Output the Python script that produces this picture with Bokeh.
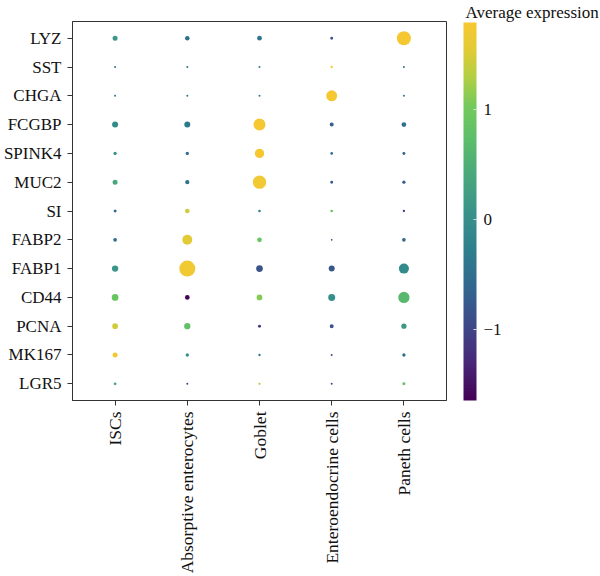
import numpy as np
import pandas as pd
from bokeh.plotting import figure
from bokeh.models import (ColumnDataSource, LinearColorMapper, ColorBar, FixedTicker,
                          FactorRange, CustomJSTickFormatter)
from bokeh.embed import file_html
from bokeh.resources import INLINE

# Marker genes (top to bottom) and cell types (left to right)
genes = ["LYZ", "SST", "CHGA", "FCGBP", "SPINK4", "MUC2", "SI",
         "FABP2", "FABP1", "CD44", "PCNA", "MK167", "LGR5"]
cell_types = ["ISCs", "Absorptive enterocytes", "Goblet",
              "Enteroendocrine cells", "Paneth cells"]

# Scaled average expression per cell type (gene order as above)
expr_iscs = [0.1, -0.4, -0.4, -0.1, 0.0, 0.4, -0.55, -0.55, 0.1, 0.9, 1.45, 1.7, 0.3]
expr_absorptive = [-0.5, -0.4, -0.4, -0.35, -0.6, -0.45, 1.45, 1.55, 1.72, -1.6, 0.8, 0.0, -1.0]
expr_goblet = [-0.45, -0.4, -0.4, 1.75, 1.75, 1.72, -0.1, 0.9, -0.85, 1.1, -1.1, -0.5, 1.3]
expr_enteroendocrine = [-0.8, 1.7, 1.75, -0.7, -0.6, -0.75, 0.9, -0.95, -0.8, 0.0, -0.85, -0.9, -0.95]
expr_paneth = [1.75, -0.4, -0.4, -0.5, -0.65, -0.75, -1.15, -0.6, -0.1, 0.65, 0.15, -0.55, 0.8]

# Percent of cells expressing each gene
pct_iscs = [9.8, 1.6, 1.6, 14.0, 4.3, 9.8, 3.5, 5.3, 15.5, 17.5, 12.7, 9.8, 2.8]
pct_absorptive = [8.0, 1.6, 1.6, 14.0, 4.3, 7.2, 8.6, 39.0, 100.0, 8.6, 15.5, 4.3, 1.6]
pct_goblet = [8.6, 1.6, 1.6, 56.0, 34.0, 69.0, 2.8, 8.6, 17.5, 12.7, 3.5, 2.1, 2.1]
pct_enteroendocrine = [3.5, 2.1, 47.0, 6.3, 2.8, 3.5, 2.8, 1.2, 14.0, 19.0, 6.3, 1.6, 1.6]
pct_paneth = [77.0, 1.6, 1.6, 8.6, 3.5, 4.3, 2.1, 5.3, 39.0, 50.0, 11.0, 4.3, 3.5]

expr_cols = [expr_iscs, expr_absorptive, expr_goblet, expr_enteroendocrine, expr_paneth]
pct_cols = [pct_iscs, pct_absorptive, pct_goblet, pct_enteroendocrine, pct_paneth]

colorbar_ticks = [-1, 0, 1]
expr_low, expr_high = -1.65, 1.79

rows = []
for ct, ex, pc in zip(cell_types, expr_cols, pct_cols):
    for g, e, f in zip(genes, ex, pc):
        rows.append({"cell_type": ct, "gene": g, "expr": e, "pct": f})
df = pd.DataFrame(rows)
# dot area proportional to the fraction of expressing cells
df["size"] = 16.0 * np.sqrt(df["pct"] / 100.0)
source = ColumnDataSource(df)


def hex_to_rgb(h):
    h = h.lstrip("#")
    return np.array([int(h[i:i + 2], 16) for i in (0, 2, 4)], dtype=float)


# viridis-like ramp ending in a warm gold
anchors = [
    (0.00, "#440154"), (0.10, "#482878"), (0.20, "#3e4989"), (0.30, "#31688e"),
    (0.40, "#2c808d"), (0.50, "#3a938a"), (0.60, "#49a97b"), (0.70, "#5ebf68"),
    (0.78, "#74c95c"), (0.86, "#b5cf42"), (0.93, "#e2cb36"), (1.00, "#f7c832"),
]
pos = np.array([a[0] for a in anchors])
cols = np.array([hex_to_rgb(a[1]) for a in anchors])
palette = []
for t in np.linspace(0, 1, 256):
    rgb = [np.interp(t, pos, cols[:, k]) for k in range(3)]
    palette.append("#%02x%02x%02x" % tuple(int(round(c)) for c in rgb))

mapper = LinearColorMapper(palette=palette, low=expr_low, high=expr_high)

FONT = "Liberation Serif"

p = figure(
    width=600, height=576,
    x_range=FactorRange(*cell_types, range_padding=0.036),
    y_range=FactorRange(*genes[::-1], range_padding=0.0123),
    output_backend="svg", toolbar_location=None,
    min_border_left=71, min_border_right=154, min_border_top=21, min_border_bottom=176,
)

p.scatter(x="cell_type", y="gene", size="size", source=source,
          fill_color={"field": "expr", "transform": mapper}, line_color=None)

p.xgrid.visible = False
p.ygrid.visible = False
p.outline_line_color = "#333333"
p.outline_line_width = 1

for ax in (p.xaxis, p.yaxis):
    ax.axis_line_color = "#333333"
    ax.major_tick_line_color = "#333333"
    ax.major_tick_out = 5
    ax.major_tick_in = 0
    ax.major_label_text_font = FONT
    ax.major_label_text_font_size = "17px"
    ax.major_label_text_color = "#111111"
    ax.major_label_standoff = 6

p.xaxis.major_label_orientation = np.pi / 2
p.xaxis.major_label_text_font_size = "17.5px"

# colour bar title sits above the bar, right of the dot matrix
p.title.text = "Average expression"
p.title.align = "left"
p.title.offset = 393
p.title.standoff = 0
p.title.text_font = FONT
p.title.text_font_size = "17px"
p.title.text_font_style = "normal"
p.title.text_color = "#111111"

cb = ColorBar(
    color_mapper=mapper, width=13, height=378,
    ticker=FixedTicker(ticks=colorbar_ticks),
    formatter=CustomJSTickFormatter(code="return tick < 0 ? '\u2212' + Math.abs(tick) : String(tick)"),
    major_tick_line_color="#dddddd", major_tick_in=3, major_tick_out=0,
    minor_tick_line_color=None,
    label_standoff=7,
    major_label_text_font=FONT, major_label_text_font_size="17px",
    major_label_text_color="#111111",
    padding=0, margin=0, location=(17, 0),
    bar_line_color=None, border_line_color=None, background_fill_color=None,
)
p.add_layout(cb, "right")

open("out.html", "w").write(file_html(p, INLINE))
